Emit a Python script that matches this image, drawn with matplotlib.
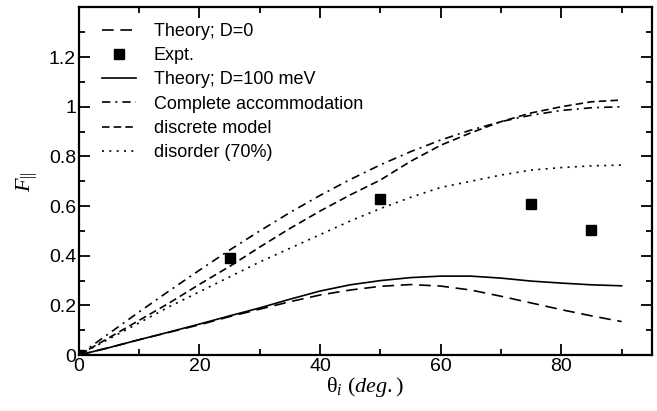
import numpy as np
import matplotlib
matplotlib.use('Agg')
import matplotlib.pyplot as plt
from matplotlib.ticker import MultipleLocator

plt.rcParams['font.family'] = 'Liberation Sans'
plt.rcParams['mathtext.fontset'] = 'custom'
plt.rcParams['mathtext.rm'] = 'Liberation Serif'
plt.rcParams['mathtext.it'] = 'Liberation Serif:italic'

# incidence angle (deg.)
theta = [0, 5, 10, 15, 20, 25, 30, 35, 40, 45, 50, 55, 60, 65, 70, 75, 80, 85, 90]

theory_d0 = [0, 0.03, 0.062, 0.092, 0.122, 0.155, 0.185, 0.215, 0.242, 0.262,
             0.277, 0.284, 0.278, 0.262, 0.237, 0.21, 0.183, 0.158, 0.135]
theory_d100 = [0, 0.03, 0.062, 0.093, 0.125, 0.158, 0.19, 0.225, 0.258, 0.283,
               0.300, 0.312, 0.318, 0.318, 0.31, 0.298, 0.29, 0.283, 0.279]
complete_acc = [0, 0.087, 0.174, 0.259, 0.342, 0.423, 0.5, 0.574, 0.643, 0.707,
                0.766, 0.819, 0.866, 0.906, 0.94, 0.966, 0.985, 0.996, 1.0]
discrete = [0, 0.07, 0.14, 0.21, 0.285, 0.357, 0.435, 0.51, 0.58, 0.645,
            0.705, 0.78, 0.845, 0.895, 0.94, 0.975, 1.0, 1.02, 1.027]
disorder = [0, 0.065, 0.13, 0.195, 0.255, 0.315, 0.375, 0.43, 0.485, 0.54,
            0.59, 0.635, 0.675, 0.70, 0.725, 0.745, 0.755, 0.762, 0.765]

expt_theta = [0, 25, 50, 75, 85]
expt_f = [0, 0.39, 0.63, 0.61, 0.505]

fig = plt.figure(figsize=(6.57, 4.11), dpi=100)
ax = fig.add_axes([0.120, 0.136, 0.872, 0.846])

lw = 1.2
ax.plot(theta, theory_d0, c='k', lw=lw, dashes=(7, 4), label='Theory; D=0')
ax.plot(expt_theta, expt_f, ls='none', marker='s', ms=7.5, c='k', label='Expt.')
ax.plot(theta, theory_d100, c='k', lw=lw, label='Theory; D=100 meV')
ax.plot(theta, complete_acc, c='k', lw=lw, dashes=(5, 3, 1.2, 3), label='Complete accommodation')
ax.plot(theta, discrete, c='k', lw=lw, dashes=(4.5, 2.5), label='discrete model')
ax.plot(theta, disorder, c='k', lw=lw, dashes=(1.2, 3.2), label='disorder (70%)')

ax.set_xlim(0, 95)
ax.set_ylim(0, 1.4)
ax.set_xticks([0, 20, 40, 60, 80])
ax.set_yticks([0, 0.2, 0.4, 0.6, 0.8, 1.0, 1.2])
ax.set_yticklabels(['0', '0.2', '0.4', '0.6', '0.8', '1', '1.2'])
ax.xaxis.set_minor_locator(MultipleLocator(10))
ax.yaxis.set_minor_locator(MultipleLocator(0.1))
ax.tick_params(which='both', direction='in', top=True, right=True, width=1.3, labelsize=14)
ax.tick_params(which='major', length=8, pad=2)
ax.tick_params(which='minor', length=4.5)
for s in ax.spines.values():
    s.set_linewidth(1.6)

ax.set_xlabel(r'$\mathrm{\theta}_{\mathit{i}}\ \mathit{(deg.)}$', fontsize=16, labelpad=0)
ax.set_ylabel(r'$F_{||}$', fontsize=16, labelpad=6)

ax.legend(loc='upper left', frameon=False, fontsize=13, handlelength=1.85,
          handletextpad=1.0, labelspacing=0.4, borderaxespad=0,
          bbox_to_anchor=(0.028, 0.976))

fig.savefig('out.png', dpi=100)
